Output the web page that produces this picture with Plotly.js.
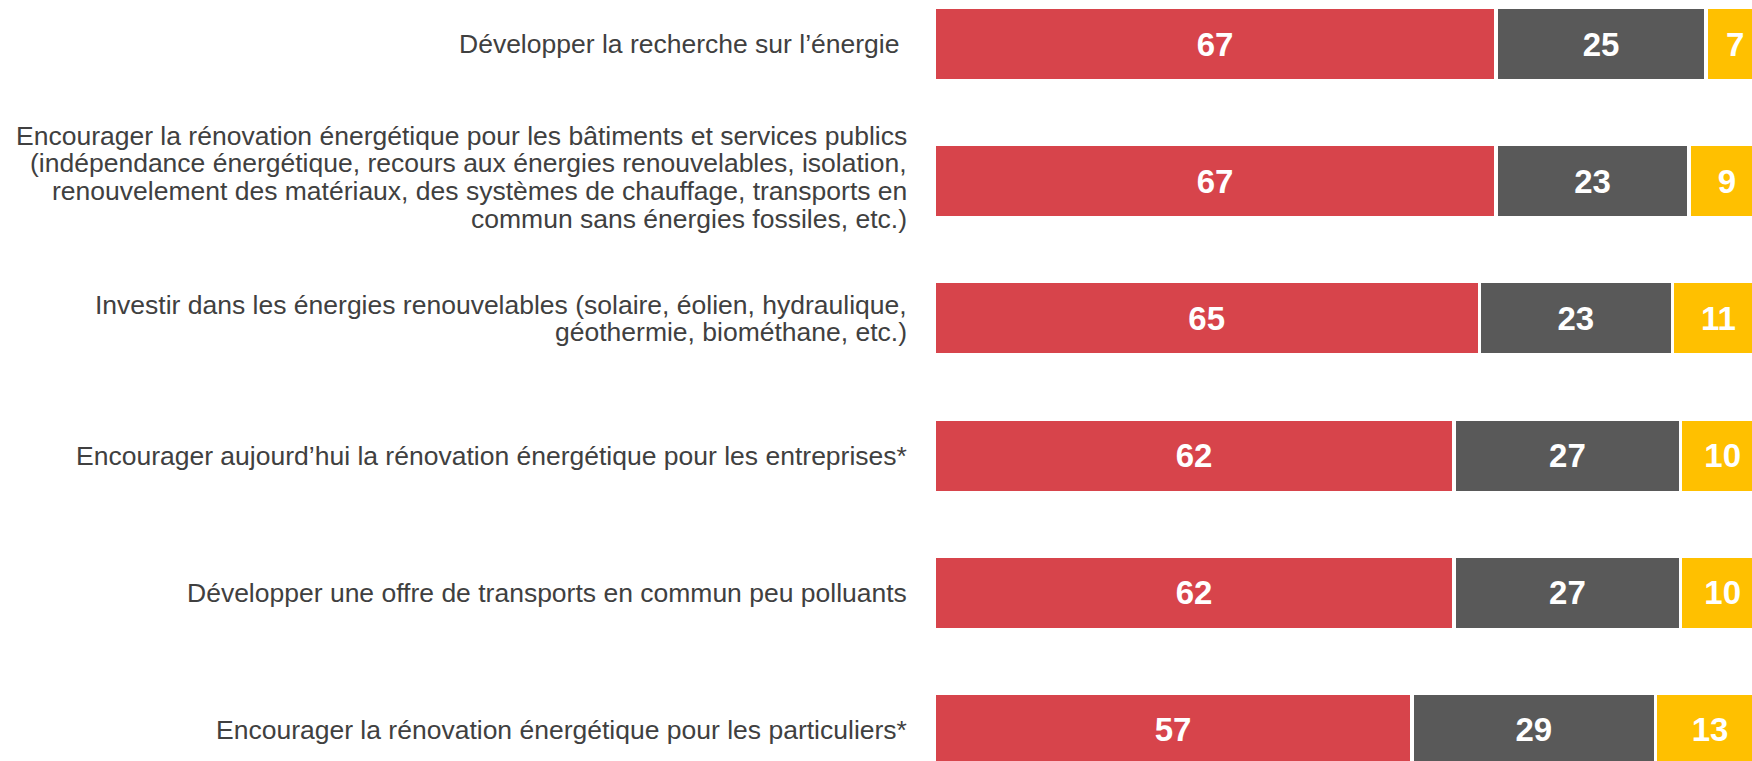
<!DOCTYPE html>
<html>
<head>
<meta charset="utf-8">
<script src="https://cdn.plot.ly/plotly-3.0.1.min.js"></script>
<style>
  html, body { margin: 0; padding: 0; background: #fff; }
  #chart { width: 1752px; height: 761px; }
</style>
</head>
<body>
<div id="chart"></div>
<script>
// categories, top to bottom (one entry per text line)
var categories = [
  ["Développer la recherche sur l’énergie\u00a0"],
  ["Encourager la rénovation énergétique pour les bâtiments et services publics",
   "(indépendance énergétique, recours aux énergies renouvelables, isolation,",
   "renouvelement des matériaux, des systèmes de chauffage, transports en",
   "commun sans énergies fossiles, etc.)"],
  ["Investir dans les énergies renouvelables (solaire, éolien, hydraulique,",
   "géothermie, biométhane, etc.)"],
  ["Encourager aujourd’hui la rénovation énergétique pour les entreprises*"],
  ["Développer une offre de transports en commun peu polluants"],
  ["Encourager la rénovation énergétique pour les particuliers*"]
];

var seriesA = [67, 67, 65, 62, 62, 57];
var seriesB = [25, 23, 23, 27, 27, 29];
var seriesC = [7, 9, 11, 10, 10, 13];

var colors = ['#D7444B', '#595959', '#FFC000'];
var positions = categories.map(function (c, i) { return i; });
var font = 'Liberation Sans, Arial, sans-serif';
var lineGap = 27.7;

function makeTrace(vals, color) {
  return {
    type: 'bar',
    orientation: 'h',
    x: vals,
    y: positions,
    text: vals.map(String),
    textposition: 'inside',
    insidetextanchor: 'middle',
    constraintext: 'none',
    textangle: 0,
    textfont: {family: font, size: 33, color: '#ffffff', weight: 'bold'},
    marker: {color: color, line: {color: '#ffffff', width: 3.5}},
    hoverinfo: 'none'
  };
}

var data = [
  makeTrace(seriesA, colors[0]),
  makeTrace(seriesB, colors[1]),
  makeTrace(seriesC, colors[2])
];

// category labels, one annotation per line to keep the tight line spacing
var annotations = [];
categories.forEach(function (lines, i) {
  var n = lines.length;
  lines.forEach(function (line, j) {
    annotations.push({
      xref: 'paper', yref: 'y',
      x: 0, y: i,
      xanchor: 'right', yanchor: 'middle',
      xshift: -25,
      yshift: ((n - 1) / 2 - j) * lineGap + (n > 2 ? 4 : 0),
      text: line,
      showarrow: false,
      font: {family: font, size: 26.5, color: '#404040'}
    });
  });
});

var layout = {
  width: 1752,
  height: 761,
  barmode: 'stack',
  bargap: 0.465,
  showlegend: false,
  paper_bgcolor: '#ffffff',
  plot_bgcolor: '#ffffff',
  margin: {l: 934, r: 0, t: 0, b: 0, pad: 0},
  xaxis: {visible: false, range: [0, 97.5], fixedrange: true},
  yaxis: {
    range: [5.226, -0.321],
    showticklabels: false,
    ticks: '',
    showgrid: false,
    zeroline: false,
    showline: false
  },
  annotations: annotations
};

Plotly.newPlot('chart', data, layout, {displayModeBar: false, staticPlot: true});
</script>
</body>
</html>
